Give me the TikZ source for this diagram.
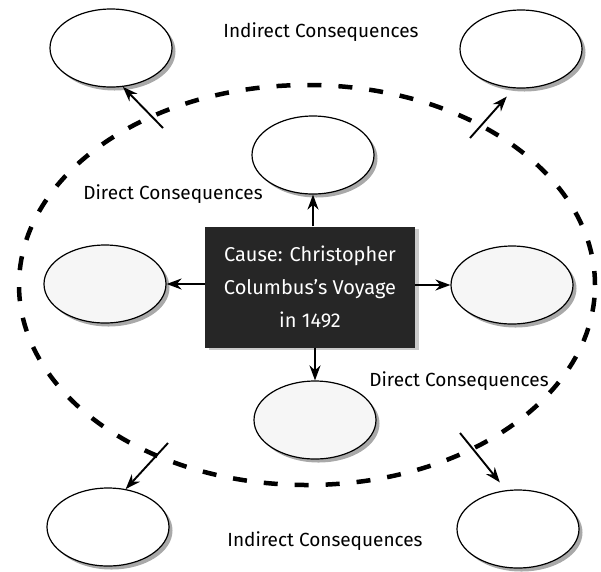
\documentclass[tikz,border=0pt]{standalone}
\usepackage{fontspec}
\setmainfont{Fira Sans}
\usetikzlibrary{arrows.meta,shapes.geometric,shadows}
\begin{document}
\begin{tikzpicture}[x=1pt,y=-1pt,
  bubble/.style={ellipse, draw=black, line width=1.2pt, fill=white,
    minimum width=122pt, minimum height=78pt, inner sep=0pt,
    drop shadow={shadow xshift=3.5pt, shadow yshift=-3.5pt, fill=gray!90, opacity=0.75}},
  speckled/.style={bubble, fill=gray!7},
  arr/.style={-{Stealth[length=15pt,width=11pt]}, line width=1.9pt},
  lbl/.style={font=\fontsize{19}{22}\selectfont, inner sep=0pt},
  causebox/.style={rectangle, fill=black!85, text=white, align=center,
    minimum width=210pt, minimum height=121pt, inner sep=0pt,
    font=\fontsize{20}{33}\selectfont,
    drop shadow={shadow xshift=4pt, shadow yshift=-2pt, fill=gray!70, opacity=0.6}},
  ring/.style={line width=4.5pt, dash pattern=on 14pt off 17pt}]
\useasboundingbox (0,0) rectangle (601,571);

% big dashed ellipse
\draw[ring] (307,285) ellipse [x radius=288pt, y radius=200pt];

% labels
\node[lbl] (lblTop) at (321,32) {Indirect Consequences};
\node[lbl] (lblLeft) at (173,194) {Direct Consequences};
\node[lbl] (lblRight) at (459,381) {Direct Consequences};
\node[lbl] (lblBot) at (325,541) {Indirect Consequences};

% ellipses
\node[bubble] (TL) at (111,48) {};
\node[bubble] (TR) at (521,49) {};
\node[bubble] (T) at (313,155) {};
\node[speckled] (L) at (105,284) {};
\node[speckled] (R) at (512,285) {};
\node[speckled] (B) at (315,420) {};
\node[bubble] (BL) at (108,527) {};
\node[bubble] (BR) at (518,529) {};

% cause box
\node[causebox] (cause) at (310,287) {Cause: Christopher\\Columbus's Voyage\\in 1492};

% direct arrows
\draw[arr] (cause.north -| T.south) -- (T.south);
\draw[arr] (cause.west |- L.east) -- (L.east);
\draw[arr] (cause.east |- R.west) -- (R.west);
\draw[arr] (cause.south -| B.north) -- (B.north);

% indirect arrows
\coordinate (sTL) at (163,128);
\coordinate (sTR) at (470,138);
\coordinate (sBL) at (168,443);
\coordinate (sBR) at (460,433);
\draw[arr] (sTL) -- (TL.-73);
\draw[arr, shorten >=11pt] (sTR) -- (TR.-100);
\draw[arr] (sBL) -- (BL.65);
\draw[arr, shorten >=10pt] (sBR) -- (BR.107);
\end{tikzpicture}
\end{document}
